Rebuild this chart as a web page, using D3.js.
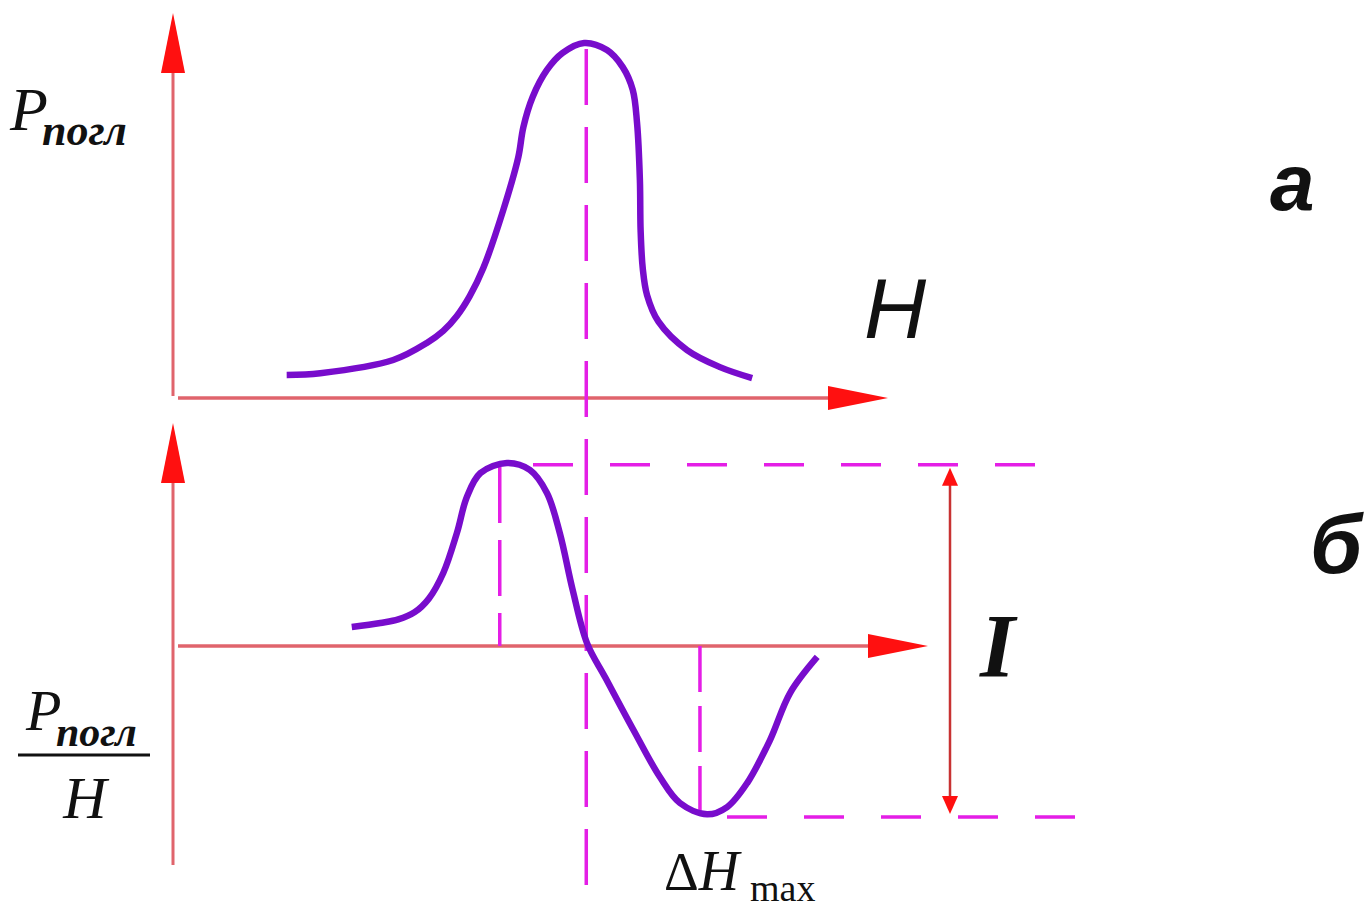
<!DOCTYPE html>
<html>
<head>
<meta charset="utf-8">
<script src="https://cdn.jsdelivr.net/npm/d3@7"></script>
<style>
  body { margin: 0; background: #fff; }
  svg { display: block; }
</style>
</head>
<body>
<div id="chart"></div>
<script>
// absorption line P(H), panel "a"
const hAbsorb = [15.9, 20.6, 30.8, 35.5, 37.8, 39.7, 41.5, 43.4, 46.2, 48.3, 49.0, 50.3, 52.3, 54.5, 57.5, 60.7, 62.9, 64.3, 64.9, 65.3, 65.4, 65.7, 66.3, 67.9, 71.9, 76.5, 81.0]
const pAbsorb = [6.5, 7.0, 10.7, 15.5, 18.9, 23.1, 28.7, 36.6, 53.0, 67.9, 76.3, 84.8, 92.4, 97.2, 100, 98.0, 93.2, 86.8, 77.5, 61.4, 47.3, 36.5, 29.0, 21.5, 13.5, 8.7, 5.6]

// first derivative dP/dH, panel "б"
const hDeriv = [25.0, 29.0, 31.5, 33.8, 35.8, 37.8, 39.7, 41.1, 43.0, 46.7, 49.9, 52.3, 54.1, 55.9, 57.9, 60.5, 64.4, 68.1, 70.9, 74.7, 77.5, 80.3, 83.5, 86.3, 90.1]
const dDeriv = [10.4, 12.6, 14.5, 18.5, 26.0, 39.9, 61.7, 81.4, 94.5, 100, 96.2, 83.6, 61.7, 30.6, 1.6, -17.5, -45.9, -71.6, -85.8, -92.0, -88.0, -74.9, -51.4, -25.7, -6.0]

const hCenter = 57.8
const hDerivMax = 45.7
const hDerivMin = 73.7
const refHigh = 99
const refLow = -93.5

const CURVE = '#780ccc'
const DASH = '#e41ee6'
const AXIS = '#e0646c'
const ARROW = '#ff1010'

const width = 1367
const height = 914

const svg = d3.select('#chart').append('svg')
  .attr('width', width)
  .attr('height', height)

const xScale = d3.scaleLinear().domain([0, 100]).range([173, 888])
const yTop = d3.scaleLinear().domain([0, 100]).range([398, 43])
const yBot = d3.scaleLinear().domain([-100, 100]).range([829, 463])

// arrowhead: tip point, direction, length, half width
function arrowHead (g, tx, ty, dir, len, hw, color) {
  let pts
  if (dir === 'up') pts = [[tx, ty], [tx - hw, ty + len], [tx + hw, ty + len]]
  if (dir === 'down') pts = [[tx, ty], [tx - hw, ty - len], [tx + hw, ty - len]]
  if (dir === 'right') pts = [[tx, ty], [tx - len, ty - hw], [tx - len, ty + hw]]
  g.append('polygon')
    .attr('points', pts.map(p => p.join(',')).join(' '))
    .attr('fill', color)
}

const axes = svg.append('g')

// top panel axes
axes.append('line')
  .attr('x1', 173).attr('y1', 396).attr('x2', 173).attr('y2', 65)
  .attr('stroke', AXIS).attr('stroke-width', 3)
arrowHead(axes, 173, 13, 'up', 60, 12, ARROW)
axes.append('line')
  .attr('x1', 178).attr('y1', yTop(0)).attr('x2', 840).attr('y2', yTop(0))
  .attr('stroke', AXIS).attr('stroke-width', 3.5)
arrowHead(axes, 888, yTop(0), 'right', 60, 12, ARROW)

// bottom panel axes
axes.append('line')
  .attr('x1', 173).attr('y1', 865).attr('x2', 173).attr('y2', 475)
  .attr('stroke', AXIS).attr('stroke-width', 3)
arrowHead(axes, 173, 423, 'up', 60, 12, ARROW)
axes.append('line')
  .attr('x1', 178).attr('y1', yBot(0)).attr('x2', 880).attr('y2', yBot(0))
  .attr('stroke', AXIS).attr('stroke-width', 3.5)
arrowHead(axes, 928, yBot(0), 'right', 60, 12, ARROW)

// dashed guides
const guides = svg.append('g')
  .attr('stroke', DASH)
  .attr('stroke-width', 3.5)
  .attr('fill', 'none')

guides.append('line')
  .attr('x1', xScale(hCenter)).attr('y1', yTop(100) + 6)
  .attr('x2', xScale(hCenter)).attr('y2', 885)
  .attr('stroke-dasharray', '56,22')
guides.append('line')
  .attr('x1', xScale(hDerivMax)).attr('y1', yBot(100) + 4)
  .attr('x2', xScale(hDerivMax)).attr('y2', yBot(0))
  .attr('stroke-dasharray', '56,17')
guides.append('line')
  .attr('x1', xScale(hDerivMin)).attr('y1', yBot(0))
  .attr('x2', xScale(hDerivMin)).attr('y2', yBot(refLow) - 2)
  .attr('stroke-dasharray', '46,14')
guides.append('line')
  .attr('x1', 533).attr('y1', yBot(refHigh))
  .attr('x2', 1037).attr('y2', yBot(refHigh))
  .attr('stroke-dasharray', '40,37')
guides.append('line')
  .attr('x1', 727).attr('y1', yBot(refLow))
  .attr('x2', 1075).attr('y2', yBot(refLow))
  .attr('stroke-dasharray', '40,37')

// intensity double arrow
const dbl = svg.append('g')
dbl.append('line')
  .attr('x1', 950).attr('y1', yBot(refHigh) + 16)
  .attr('x2', 950).attr('y2', yBot(refLow) - 16)
  .attr('stroke', '#c83232').attr('stroke-width', 2.5)
arrowHead(dbl, 950, yBot(refHigh) + 3, 'up', 18, 8, ARROW)
arrowHead(dbl, 950, yBot(refLow) - 3, 'down', 18, 8, ARROW)

// curves
const absorbLine = d3.line()
  .x(d => xScale(d[0]))
  .y(d => yTop(d[1]))
  .curve(d3.curveCatmullRom.alpha(0.5))
const derivLine = d3.line()
  .x(d => xScale(d[0]))
  .y(d => yBot(d[1]))
  .curve(d3.curveCatmullRom.alpha(0.5))

svg.append('path')
  .datum(d3.zip(hAbsorb, pAbsorb))
  .attr('d', absorbLine)
  .attr('fill', 'none')
  .attr('stroke', CURVE)
  .attr('stroke-width', 6.5)
  .attr('stroke-linecap', 'butt')
  .attr('stroke-linejoin', 'round')

svg.append('path')
  .datum(d3.zip(hDeriv, dDeriv))
  .attr('d', derivLine)
  .attr('fill', 'none')
  .attr('stroke', CURVE)
  .attr('stroke-width', 6.5)
  .attr('stroke-linecap', 'butt')
  .attr('stroke-linejoin', 'round')

// labels
const serif = 'Liberation Serif, Times New Roman, serif'
const sans = 'Liberation Sans, Arial, sans-serif'

const pTop = svg.append('text')
  .attr('font-family', serif)
  .attr('font-style', 'italic')
  .attr('fill', '#111')
pTop.append('tspan').attr('x', 10).attr('y', 130).attr('font-size', 62).text('P')
pTop.append('tspan').attr('x', 42).attr('y', 145).attr('font-size', 44).attr('font-weight', 'bold').text('погл')

const pBot = svg.append('text')
  .attr('font-family', serif)
  .attr('font-style', 'italic')
  .attr('fill', '#111')
pBot.append('tspan').attr('x', 26).attr('y', 730).attr('font-size', 58).text('P')
pBot.append('tspan').attr('x', 56).attr('y', 746).attr('font-size', 42).attr('font-weight', 'bold').text('погл')
svg.append('line')
  .attr('x1', 18).attr('y1', 755).attr('x2', 150).attr('y2', 755)
  .attr('stroke', '#111').attr('stroke-width', 3)
svg.append('text')
  .attr('x', 85).attr('y', 818)
  .attr('text-anchor', 'middle')
  .attr('font-family', serif)
  .attr('font-style', 'italic')
  .attr('font-size', 60)
  .attr('fill', '#111')
  .text('H')

svg.append('text')
  .attr('x', 864).attr('y', 338)
  .attr('font-family', sans)
  .attr('font-style', 'italic')
  .attr('font-size', 86)
  .attr('fill', '#111')
  .text('H')

svg.append('text')
  .attr('x', 1270).attr('y', 210)
  .attr('font-family', sans)
  .attr('font-style', 'italic')
  .attr('font-weight', 'bold')
  .attr('font-size', 80)
  .attr('fill', '#111')
  .text('а')

svg.append('text')
  .attr('x', 1310).attr('y', 573)
  .attr('font-family', sans)
  .attr('font-style', 'italic')
  .attr('font-weight', 'bold')
  .attr('font-size', 84)
  .attr('fill', '#111')
  .text('б')

svg.append('text')
  .attr('x', 980).attr('y', 677)
  .attr('font-family', serif)
  .attr('font-style', 'italic')
  .attr('font-weight', 'bold')
  .attr('font-size', 90)
  .attr('fill', '#111')
  .text('I')

const dH = svg.append('text')
  .attr('font-family', serif)
  .attr('fill', '#111')
dH.append('tspan').attr('x', 664).attr('y', 890).attr('font-size', 54).text('Δ')
dH.append('tspan').attr('font-size', 56).attr('font-style', 'italic').text('H')
dH.append('tspan').attr('x', 750).attr('y', 901).attr('font-size', 38).text('max')
</script>
</body>
</html>
